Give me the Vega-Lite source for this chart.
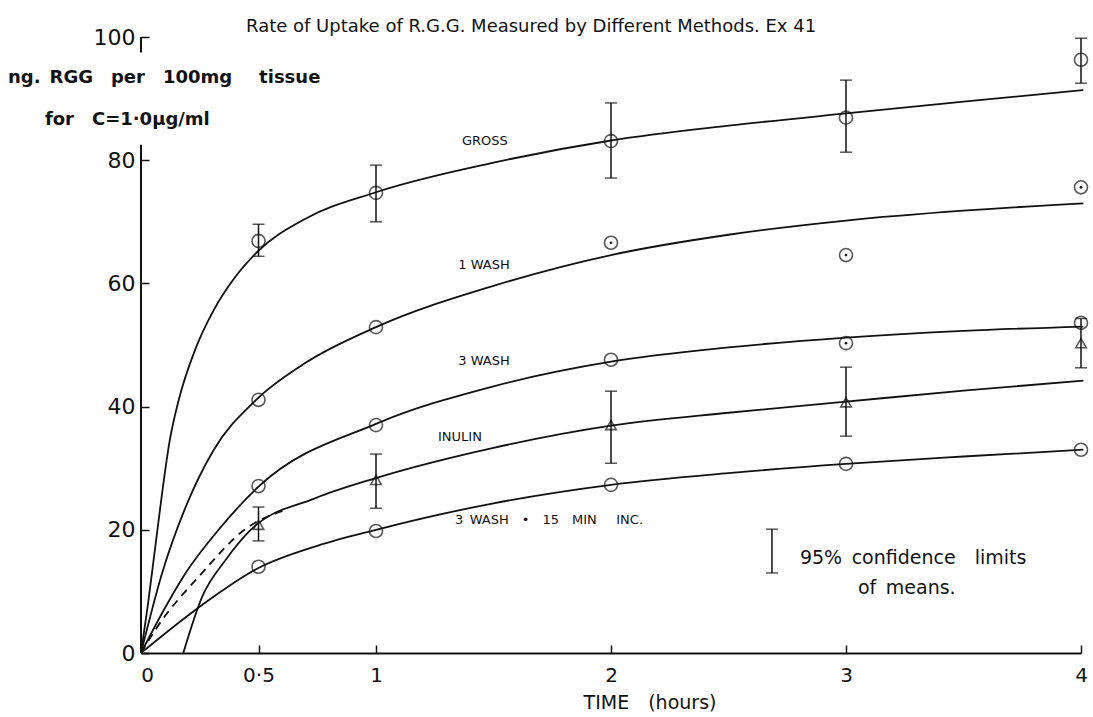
{
  "$schema": "https://vega.github.io/schema/vega-lite/v6.json",
  "width": 940,
  "height": 616,
  "autosize": "none",
  "padding": {"left": 141, "top": 37, "right": 12, "bottom": 64},
  "background": "white",
  "config": {"view": {"stroke": null}, "font": "DejaVu Sans"},
  "datasets": {
    "axisline": [
      {"x0": 0, "y0": 0, "y1": 82.5},
      {"x0": 0, "y0": 97.5, "y1": 100}
    ],
    "curves": [
      {"series": "GROSS", "t": 0, "v": 0},
      {"series": "GROSS", "t": 0.03, "v": 8},
      {"series": "GROSS", "t": 0.06, "v": 17},
      {"series": "GROSS", "t": 0.09, "v": 26},
      {"series": "GROSS", "t": 0.12, "v": 34},
      {"series": "GROSS", "t": 0.16, "v": 41},
      {"series": "GROSS", "t": 0.23, "v": 49.2},
      {"series": "GROSS", "t": 0.31, "v": 55.7},
      {"series": "GROSS", "t": 0.4, "v": 61},
      {"series": "GROSS", "t": 0.5, "v": 65.3},
      {"series": "GROSS", "t": 0.7, "v": 70.5},
      {"series": "GROSS", "t": 1, "v": 74.8},
      {"series": "GROSS", "t": 1.5, "v": 79.6},
      {"series": "GROSS", "t": 2, "v": 83.2},
      {"series": "GROSS", "t": 2.5, "v": 85.6},
      {"series": "GROSS", "t": 3, "v": 87.6},
      {"series": "GROSS", "t": 3.5, "v": 89.5},
      {"series": "GROSS", "t": 4.01, "v": 91.4},
      {"series": "1 WASH", "t": 0, "v": 0},
      {"series": "1 WASH", "t": 0.09, "v": 13},
      {"series": "1 WASH", "t": 0.19, "v": 23.7},
      {"series": "1 WASH", "t": 0.31, "v": 33},
      {"series": "1 WASH", "t": 0.49, "v": 41.1},
      {"series": "1 WASH", "t": 0.7, "v": 47.1},
      {"series": "1 WASH", "t": 1, "v": 52.9},
      {"series": "1 WASH", "t": 1.5, "v": 59.6},
      {"series": "1 WASH", "t": 2, "v": 64.6},
      {"series": "1 WASH", "t": 2.5, "v": 67.9},
      {"series": "1 WASH", "t": 3, "v": 70.2},
      {"series": "1 WASH", "t": 3.5, "v": 71.8},
      {"series": "1 WASH", "t": 4.01, "v": 73},
      {"series": "3 WASH", "t": 0, "v": 0},
      {"series": "3 WASH", "t": 0.09, "v": 6.5},
      {"series": "3 WASH", "t": 0.19, "v": 13},
      {"series": "3 WASH", "t": 0.33, "v": 20},
      {"series": "3 WASH", "t": 0.5, "v": 27},
      {"series": "3 WASH", "t": 1, "v": 37.2},
      {"series": "3 WASH", "t": 1.5, "v": 43.3},
      {"series": "3 WASH", "t": 2, "v": 47.3},
      {"series": "3 WASH", "t": 2.5, "v": 49.6},
      {"series": "3 WASH", "t": 3, "v": 51.2},
      {"series": "3 WASH", "t": 3.5, "v": 52.3},
      {"series": "3 WASH", "t": 4.01, "v": 53},
      {"series": "INULIN", "t": 0.18, "v": 0},
      {"series": "INULIN", "t": 0.26, "v": 9.1},
      {"series": "INULIN", "t": 0.36, "v": 15.1},
      {"series": "INULIN", "t": 0.47, "v": 20.1},
      {"series": "INULIN", "t": 0.74, "v": 25.1},
      {"series": "INULIN", "t": 1, "v": 28.4},
      {"series": "INULIN", "t": 1.5, "v": 33.3},
      {"series": "INULIN", "t": 2, "v": 36.9},
      {"series": "INULIN", "t": 2.5, "v": 39.0},
      {"series": "INULIN", "t": 3, "v": 40.8},
      {"series": "INULIN", "t": 3.5, "v": 42.6},
      {"series": "INULIN", "t": 4.01, "v": 44.2},
      {"series": "INULIN extrapolated", "t": 0, "v": 0},
      {"series": "INULIN extrapolated", "t": 0.06, "v": 3.7},
      {"series": "INULIN extrapolated", "t": 0.26, "v": 13},
      {"series": "INULIN extrapolated", "t": 0.44, "v": 20},
      {"series": "INULIN extrapolated", "t": 0.62, "v": 23.3},
      {"series": "3 WASH + 15 MIN INC.", "t": 0, "v": 0},
      {"series": "3 WASH + 15 MIN INC.", "t": 0.26, "v": 7.8},
      {"series": "3 WASH + 15 MIN INC.", "t": 0.5, "v": 13.8},
      {"series": "3 WASH + 15 MIN INC.", "t": 0.75, "v": 17.4},
      {"series": "3 WASH + 15 MIN INC.", "t": 1, "v": 20},
      {"series": "3 WASH + 15 MIN INC.", "t": 1.5, "v": 24.3},
      {"series": "3 WASH + 15 MIN INC.", "t": 2, "v": 27.3},
      {"series": "3 WASH + 15 MIN INC.", "t": 2.5, "v": 29.2},
      {"series": "3 WASH + 15 MIN INC.", "t": 3, "v": 30.7},
      {"series": "3 WASH + 15 MIN INC.", "t": 3.5, "v": 31.9},
      {"series": "3 WASH + 15 MIN INC.", "t": 4.01, "v": 33}
    ],
    "points": [
      {"series": "GROSS", "marker": "circle", "t": 0.5, "v": 66.9},
      {"series": "GROSS", "marker": "circle", "t": 1, "v": 74.7},
      {"series": "GROSS", "marker": "circle", "t": 2, "v": 83.1},
      {"series": "GROSS", "marker": "circle", "t": 3, "v": 86.9},
      {"series": "GROSS", "marker": "circle", "t": 4, "v": 96.3},
      {"series": "1 WASH", "marker": "circle", "t": 0.5, "v": 41.1},
      {"series": "1 WASH", "marker": "circle", "t": 1, "v": 52.9},
      {"series": "1 WASH", "marker": "dotted circle", "t": 2, "v": 66.6},
      {"series": "1 WASH", "marker": "dotted circle", "t": 3, "v": 64.6},
      {"series": "1 WASH", "marker": "dotted circle", "t": 4, "v": 75.6},
      {"series": "3 WASH", "marker": "circle", "t": 0.5, "v": 27.1},
      {"series": "3 WASH", "marker": "circle", "t": 1, "v": 37.0},
      {"series": "3 WASH", "marker": "circle", "t": 2, "v": 47.6},
      {"series": "3 WASH", "marker": "dotted circle", "t": 3, "v": 50.3},
      {"series": "3 WASH", "marker": "circle", "t": 4, "v": 53.6},
      {"series": "INULIN", "marker": "triangle", "t": 0.5, "v": 20.8},
      {"series": "INULIN", "marker": "triangle", "t": 1, "v": 28.1},
      {"series": "INULIN", "marker": "triangle", "t": 2, "v": 37.0},
      {"series": "INULIN", "marker": "triangle", "t": 3, "v": 40.7},
      {"series": "INULIN", "marker": "triangle", "t": 4, "v": 50.3},
      {"series": "3 WASH + 15 MIN INC.", "marker": "circle", "t": 0.5, "v": 14.0},
      {"series": "3 WASH + 15 MIN INC.", "marker": "circle", "t": 1, "v": 19.8},
      {"series": "3 WASH + 15 MIN INC.", "marker": "circle", "t": 2, "v": 27.3},
      {"series": "3 WASH + 15 MIN INC.", "marker": "circle", "t": 3, "v": 30.7},
      {"series": "3 WASH + 15 MIN INC.", "marker": "circle", "t": 4, "v": 33.0}
    ],
    "errbars": [
      {"series": "GROSS", "t": 0.5, "lo": 64.4, "hi": 69.6},
      {"series": "GROSS", "t": 1, "lo": 70.0, "hi": 79.2},
      {"series": "GROSS", "t": 2, "lo": 77.1, "hi": 89.3},
      {"series": "GROSS", "t": 3, "lo": 81.3, "hi": 93.0},
      {"series": "GROSS", "t": 4, "lo": 92.5, "hi": 99.8},
      {"series": "INULIN", "t": 0.5, "lo": 18.2, "hi": 23.7},
      {"series": "INULIN", "t": 1, "lo": 23.5, "hi": 32.3},
      {"series": "INULIN", "t": 2, "lo": 30.8, "hi": 42.5},
      {"series": "INULIN", "t": 3, "lo": 35.2, "hi": 46.4},
      {"series": "INULIN", "t": 4, "lo": 46.3, "hi": 54.3},
      {"series": "key", "t": 2.685, "lo": 13.0, "hi": 20.1}
    ],
    "notes": [
      {"role": "title", "text": "Rate of Uptake of R.G.G. Measured by Different Methods. Ex 41", "x": 1.66, "y": 101.6},
      {"role": "ytitle", "text": "ng.\u2002RGG\u2003per\u2003100mg\u2003\u2002tissue", "x": -0.566, "y": 93.3},
      {"role": "ytitle", "text": "for\u2003C=1·0µg/ml", "x": -0.409, "y": 86.5},
      {"role": "xtitle", "text": "TIME\u2003(hours)", "x": 2.166, "y": -8.1},
      {"role": "curve", "text": "GROSS", "x": 1.366, "y": 83.1},
      {"role": "curve", "text": "1 WASH", "x": 1.35, "y": 63},
      {"role": "curve", "text": "3 WASH", "x": 1.35, "y": 47.4},
      {"role": "curve", "text": "INULIN", "x": 1.264, "y": 35},
      {"role": "curve", "text": "3\u2002WASH\u2003•\u200315\u2003MIN\u2003\u2002INC.", "x": 1.336, "y": 21.6},
      {"role": "key", "text": "95%\u2002confidence\u2003limits", "x": 2.804, "y": 15.4},
      {"role": "key", "text": "of\u2002means.", "x": 3.051, "y": 10.5}
    ]
  },
  "layer": [
    {
      "data": {"name": "axisline"},
      "mark": {"type": "rule", "color": "#111", "strokeWidth": 2},
      "encoding": {
        "x": {
          "field": "x0", "type": "quantitative",
          "scale": {"domain": [0, 4], "nice": false, "zero": false},
          "axis": {
            "values": [0, 0.5, 1, 2, 3, 4], "title": null, "grid": false,
            "domainColor": "#111", "domainWidth": 2,
            "tickColor": "#111", "tickWidth": 1.5, "tickSize": -8,
            "labelFont": "DejaVu Sans", "labelFontSize": 20, "labelColor": "#111",
            "labelPadding": 20, "labelFlush": false, "labelOverlap": false,
            "labelOffset": {"condition": {"test": "datum.value == 0", "value": 6}, "value": 0},
            "labelExpr": "datum.value == 0.5 ? '0·5' : format(datum.value, 'd')"
          }
        },
        "y": {
          "field": "y0", "type": "quantitative",
          "scale": {"domain": [0, 100], "nice": false, "zero": false},
          "axis": {
            "values": [0, 20, 40, 60, 80, 100], "title": null, "grid": false,
            "domain": false,
            "tickColor": "#111", "tickWidth": 1.5, "tickSize": -8,
            "labelFont": "DejaVu Sans", "labelFontSize": 22, "labelColor": "#111",
            "labelPadding": 14, "labelFlush": false, "labelOverlap": false
          }
        },
        "y2": {"field": "y1"}
      }
    },
    {
      "data": {"name": "curves"},
      "transform": [{"filter": "datum.series != 'INULIN extrapolated'"}],
      "mark": {"type": "line", "interpolate": "monotone", "color": "#111", "strokeWidth": 1.8, "clip": false},
      "encoding": {
        "x": {"field": "t", "type": "quantitative", "title": null},
        "y": {"field": "v", "type": "quantitative", "title": null},
        "detail": {"field": "series"}
      }
    },
    {
      "data": {"name": "curves"},
      "transform": [{"filter": "datum.series == 'INULIN extrapolated'"}],
      "mark": {"type": "line", "interpolate": "monotone", "color": "#111", "strokeWidth": 1.8, "strokeDash": [8, 6]},
      "encoding": {
        "x": {"field": "t", "type": "quantitative", "title": null},
        "y": {"field": "v", "type": "quantitative", "title": null}
      }
    },
    {
      "data": {"name": "errbars"},
      "mark": {"type": "rule", "color": "#111", "strokeWidth": 1.5},
      "encoding": {
        "x": {"field": "t", "type": "quantitative", "title": null},
        "y": {"field": "lo", "type": "quantitative", "title": null},
        "y2": {"field": "hi"}
      }
    },
    {
      "data": {"name": "errbars"},
      "transform": [{"fold": ["lo", "hi"], "as": ["end", "value"]}],
      "mark": {"type": "tick", "orient": "horizontal", "color": "#111", "size": 12, "thickness": 1.5},
      "encoding": {
        "x": {"field": "t", "type": "quantitative", "title": null},
        "y": {"field": "value", "type": "quantitative", "title": null}
      }
    },
    {
      "data": {"name": "points"},
      "transform": [{"filter": "datum.marker != 'triangle'"}],
      "mark": {"type": "point", "shape": "circle", "filled": false, "color": "#111", "size": 170, "strokeWidth": 1.6, "clip": false},
      "encoding": {
        "x": {"field": "t", "type": "quantitative", "title": null},
        "y": {"field": "v", "type": "quantitative", "title": null}
      }
    },
    {
      "data": {"name": "points"},
      "transform": [{"filter": "datum.marker == 'dotted circle'"}],
      "mark": {"type": "circle", "color": "#111", "size": 7, "opacity": 1},
      "encoding": {
        "x": {"field": "t", "type": "quantitative", "title": null},
        "y": {"field": "v", "type": "quantitative", "title": null}
      }
    },
    {
      "data": {"name": "points"},
      "transform": [{"filter": "datum.marker == 'triangle'"}],
      "mark": {"type": "point", "shape": "triangle-up", "filled": false, "color": "#111", "size": 110, "strokeWidth": 1.6},
      "encoding": {
        "x": {"field": "t", "type": "quantitative", "title": null},
        "y": {"field": "v", "type": "quantitative", "title": null}
      }
    },
    {
      "data": {"name": "notes"},
      "transform": [{"filter": "datum.role == 'title'"}],
      "mark": {"type": "text", "align": "center", "baseline": "middle", "fontSize": 18, "color": "#111", "clip": false},
      "encoding": {
        "x": {"field": "x", "type": "quantitative", "title": null},
        "y": {"field": "y", "type": "quantitative", "title": null},
        "text": {"field": "text"}
      }
    },
    {
      "data": {"name": "notes"},
      "transform": [{"filter": "datum.role == 'ytitle'"}],
      "mark": {"type": "text", "align": "left", "baseline": "middle", "fontSize": 18, "fontWeight": "bold", "color": "#111"},
      "encoding": {
        "x": {"field": "x", "type": "quantitative", "title": null},
        "y": {"field": "y", "type": "quantitative", "title": null},
        "text": {"field": "text"}
      }
    },
    {
      "data": {"name": "notes"},
      "transform": [{"filter": "datum.role == 'xtitle'"}],
      "mark": {"type": "text", "align": "center", "baseline": "middle", "fontSize": 19, "color": "#111"},
      "encoding": {
        "x": {"field": "x", "type": "quantitative", "title": null},
        "y": {"field": "y", "type": "quantitative", "title": null},
        "text": {"field": "text"}
      }
    },
    {
      "data": {"name": "notes"},
      "transform": [{"filter": "datum.role == 'curve'"}],
      "mark": {"type": "text", "align": "left", "baseline": "middle", "fontSize": 13, "color": "#111"},
      "encoding": {
        "x": {"field": "x", "type": "quantitative", "title": null},
        "y": {"field": "y", "type": "quantitative", "title": null},
        "text": {"field": "text"}
      }
    },
    {
      "data": {"name": "notes"},
      "transform": [{"filter": "datum.role == 'key'"}],
      "mark": {"type": "text", "align": "left", "baseline": "middle", "fontSize": 19, "color": "#111"},
      "encoding": {
        "x": {"field": "x", "type": "quantitative", "title": null},
        "y": {"field": "y", "type": "quantitative", "title": null},
        "text": {"field": "text"}
      }
    }
  ]
}
